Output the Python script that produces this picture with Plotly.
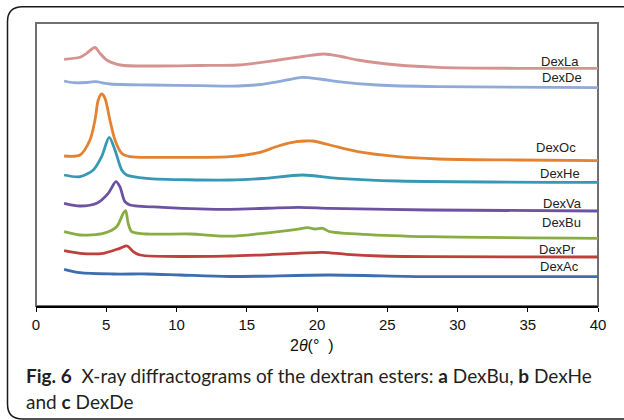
import plotly.graph_objects as go

# ---- data (2θ in degrees, offset intensity in arbitrary units) ----
la_x = [2.0, 3.13, 3.6, 4.2, 4.55, 5.03, 6.0, 8.75, 11.7, 14.4, 17.25, 19.0, 20.5, 21.7, 22.9, 25.75, 28.6, 34.2, 40]
la_y = [246.7, 248.7, 252.7, 258.5, 252.7, 246, 241, 240, 240.5, 241, 246, 249.5, 252, 249.5, 246, 241, 238.7, 237.7, 237.7]

de_x = [2.0, 2.7, 3.6, 4.2, 5.3, 8.1, 11.7, 14.4, 16.0, 17.25, 18.95, 20.2, 21.5, 24.3, 28.6, 40]
de_y = [225, 223.3, 223.5, 224.3, 222, 221, 220.3, 220, 221.5, 224.3, 228.7, 227, 224.3, 221, 219.3, 218.3]

oc_x = [2.0, 3.13, 3.84, 4.2, 4.43, 4.67, 4.91, 5.26, 5.62, 6.1, 6.69, 9.03, 13.8, 15.84, 17.25, 18.54, 19.23, 19.7, 20.91, 22.9, 25.75, 28.6, 34.2, 40]
oc_y = [150, 151, 166, 186, 206, 212, 207.7, 186, 166, 152.7, 149.3, 148.7, 149.3, 153.3, 160, 164.3, 165, 165, 161, 154.3, 149.3, 147, 146, 145.3]

he_x = [2.0, 3.13, 4.08, 4.67, 5.21, 5.62, 6.1, 6.45, 7.87, 13.8, 16.15, 18.95, 21.48, 25.75, 40]
he_y = [131, 129.3, 136, 149.3, 168.7, 156, 136, 131, 127.7, 126, 127.5, 131, 127.7, 125, 123.7]

va_x = [2.0, 3.13, 4.32, 5.14, 5.69, 5.97, 6.33, 6.69, 9.03, 13.8, 18.66, 20.91, 28.0, 40]
va_y = [102.7, 100, 102.7, 112.7, 124.3, 119.3, 104.3, 101, 98.7, 96.7, 98.7, 97.7, 96, 95]

bu_x = [2.0, 3.13, 4.79, 5.74, 6.21, 6.38, 6.56, 6.81, 7.87, 10.95, 13.8, 16.15, 18.54, 19.35, 19.84, 20.41, 20.91, 23.26, 28.0, 40]
bu_y = [74.3, 71, 72.7, 79.3, 92.7, 95.3, 82.7, 74.3, 72, 72, 69.8, 72.7, 76.7, 78.3, 77, 77.7, 74.3, 71.7, 69.3, 67.7]

pr_x = [2.0, 3.13, 4.79, 5.97, 6.49, 6.92, 7.4, 13.8, 18.54, 20.41, 22.1, 24.47, 28.0, 40]
pr_y = [55.3, 52.7, 52.7, 57.7, 60, 54.3, 51, 50, 52.7, 53.7, 51.7, 50, 49.3, 49]

ac_x = [2.0, 3.13, 5.48, 7.87, 10.24, 13.8, 20.91, 28.0, 40]
ac_y = [36.7, 33.3, 32, 32, 31, 29.5, 31, 29.3, 29.3]

names = ["DexLa", "DexDe", "DexOc", "DexHe", "DexVa", "DexBu", "DexPr", "DexAc"]
xs = [la_x, de_x, oc_x, he_x, va_x, bu_x, pr_x, ac_x]
ys = [la_y, de_y, oc_y, he_y, va_y, bu_y, pr_y, ac_y]
colors = ["#d49391", "#8eaad8", "#e5822f", "#3798b5", "#6c52a0", "#89ad45", "#be3f3b", "#3e6eb0"]

# label anchor points (2θ, intensity)
label_x = [37.27, 37.46, 37.03, 37.27, 37.5, 37.39, 37.15, 37.27]
label_y = [245, 228.7, 158.7, 132.7, 102.7, 83.3, 57, 40]

x_ticks = [0, 5, 10, 15, 20, 25, 30, 35, 40]

# ---- layout geometry (pixels) ----
W, H = 624, 420
L, R, T, B = 36, 26, 23, 114
pw, ph = W - L - R, H - T - B


def px(xp):
    return (xp - L) / pw


def py(yp):
    return (H - B - yp) / ph


fig = go.Figure()
for n, x, y, c in zip(names, xs, ys, colors):
    fig.add_trace(go.Scatter(x=x, y=y, mode="lines", name=n,
                             line=dict(color=c, width=2.8, shape="spline", smoothing=0.8)))

for n, lx, ly in zip(names, label_x, label_y):
    fig.add_annotation(x=lx, y=ly, xref="x", yref="y", text=n, showarrow=False,
                       font=dict(family="Liberation Sans, Arial", size=13, color="#222"),
                       xanchor="center", yanchor="middle")

# axis title
fig.add_annotation(x=px(311.5), y=py(345.7), xref="paper", yref="paper",
                   text="2<i>θ</i>(°\u00a0\u00a0)", showarrow=False,
                   font=dict(family="Liberation Sans, Arial", size=16, color="#111"),
                   xanchor="center", yanchor="middle")

# caption
cap_font = dict(family="Lato, Open Sans", size=19, color="#231f20")
fig.add_annotation(x=px(24), y=py(375), xref="paper", yref="paper",
                   text="<b>Fig. 6</b>\u00a0\u00a0X-ray diffractograms of the dextran esters: <b>a</b> DexBu, <b>b</b> DexHe",
                   showarrow=False, font=cap_font, xanchor="left", yanchor="middle")
fig.add_annotation(x=px(24), y=py(401.7), xref="paper", yref="paper",
                   text="and <b>c</b> DexDe",
                   showarrow=False, font=cap_font, xanchor="left", yanchor="middle")

# grey plot frame
fig.add_shape(type="rect", xref="paper", yref="paper", x0=0, x1=1, y0=0, y1=1,
              line=dict(color="#707070", width=2), layer="below")

# outer rounded border
lx0, ty0, by0, rx0, rad = 7.5, 6.7, 419.0, 650.0, 15.0
path = (f"M {px(rx0)},{py(ty0)} L {px(lx0 + rad)},{py(ty0)} "
        f"Q {px(lx0)},{py(ty0)} {px(lx0)},{py(ty0 + rad)} "
        f"L {px(lx0)},{py(by0 - rad)} "
        f"Q {px(lx0)},{py(by0)} {px(lx0 + rad)},{py(by0)} "
        f"L {px(rx0)},{py(by0)}")
fig.add_shape(type="path", xref="paper", yref="paper", path=path,
              line=dict(color="#1a1a1a", width=1.5))

fig.update_layout(
    width=W, height=H,
    margin=dict(l=L, r=R, t=T, b=B),
    paper_bgcolor="white", plot_bgcolor="white",
    showlegend=False,
    xaxis=dict(range=[0, 40], tickvals=x_ticks, ticktext=[str(v) for v in x_ticks],
               showgrid=False, zeroline=False, showline=True, linecolor="black", linewidth=2,
               ticks="outside", ticklen=4, tickcolor="black", tickwidth=1,
               tickfont=dict(family="Liberation Sans, Arial", size=15, color="#111")),
    yaxis=dict(range=[0, ph], showgrid=False, zeroline=False, showticklabels=False,
               showline=False, ticks=""),
)

fig.write_html("out.html")
